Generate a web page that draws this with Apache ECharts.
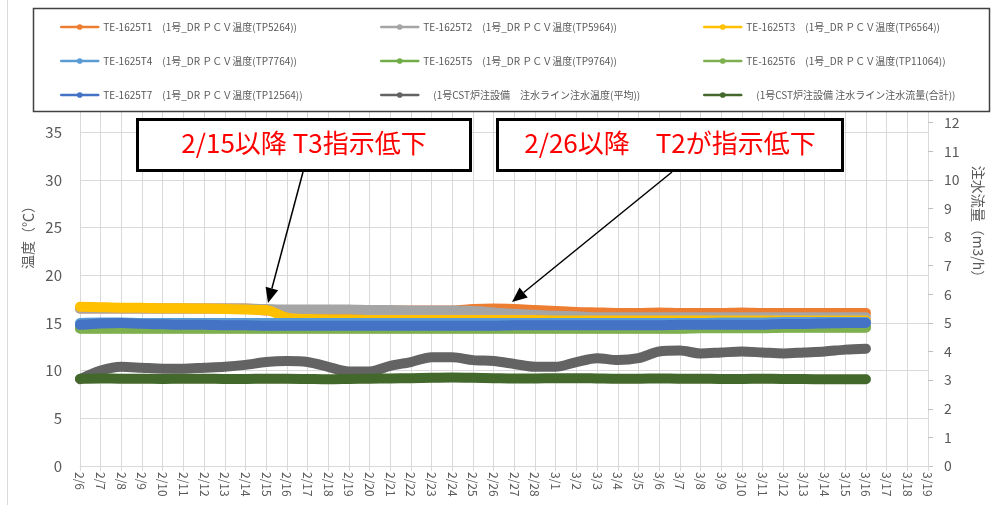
<!DOCTYPE html>
<html><head><meta charset="utf-8">
<script src="https://cdn.jsdelivr.net/npm/echarts@6/dist/echarts.min.js"></script>
<style>html,body{margin:0;padding:0;background:#fff}#c{width:993px;height:505px}</style>
</head><body><div id="c"></div>
<script>
// ---- data ----
const dates = ['2/6','2/7','2/8','2/9','2/10','2/11','2/12','2/13','2/14','2/15','2/16','2/17','2/18','2/19','2/20','2/21','2/22','2/23','2/24','2/25','2/26','2/27','2/28','3/1','3/2','3/3','3/4','3/5','3/6','3/7','3/8','3/9','3/10','3/11','3/12','3/13','3/14','3/15','3/16','3/17','3/18','3/19'];
const namesSeries = ['TE-1625T1　(1号_DR ＰＣＶ温度(TP5264))','TE-1625T2　(1号_DR ＰＣＶ温度(TP5964))','TE-1625T3　(1号_DR ＰＣＶ温度(TP6564))','TE-1625T4　(1号_DR ＰＣＶ温度(TP7764))','TE-1625T5　(1号_DR ＰＣＶ温度(TP9764))','TE-1625T6　(1号_DR ＰＣＶ温度(TP11064))','TE-1625T7　(1号_DR ＰＣＶ温度(TP12564))','　(1号CST炉注設備　注水ライン注水温度(平均))','　(1号CST炉注設備 注水ライン注水流量(合計))'];
const t1 = [16.5,16.5,16.5,16.5,16.5,16.5,16.5,16.5,16.5,16.3,16.3,16.3,16.3,16.3,16.3,16.3,16.3,16.3,16.3,16.45,16.5,16.45,16.35,16.25,16.15,16.1,16.05,16.05,16.1,16.05,16.05,16.05,16.1,16.05,16.05,16.05,16.05,16.05,16.05];
const t2 = [16.5,16.5,16.5,16.5,16.5,16.5,16.5,16.5,16.5,16.45,16.4,16.4,16.4,16.4,16.35,16.35,16.3,16.3,16.3,16.25,16.1,15.95,15.85,15.75,15.7,15.6,15.6,15.6,15.6,15.6,15.6,15.6,15.6,15.6,15.6,15.6,15.6,15.6,15.6];
const t3 = [16.7,16.65,16.6,16.6,16.55,16.55,16.5,16.45,16.4,16.35,15.55,15.4,15.35,15.35,15.3,15.3,15.3,15.3,15.3,15.3,15.3,15.3,15.3,15.25,15.25,15.25,15.25,15.25,15.25,15.25,15.25,15.25,15.25,15.25,15.25,15.25,15.25,15.25,15.25];
const t4 = [15.0,15.05,15.05,15.0,15.0,15.0,15.0,15.0,15.0,15.0,15.0,15.0,15.0,15.0,15.0,15.0,15.0,15.0,15.0,15.0,15.0,15.0,15.0,15.0,15.0,15.0,15.0,15.0,15.0,15.0,15.0,15.05,15.05,15.05,15.1,15.1,15.1,15.1,15.1];
const t5 = [14.45,14.45,14.45,14.45,14.45,14.45,14.45,14.45,14.45,14.45,14.45,14.45,14.45,14.45,14.45,14.45,14.45,14.45,14.45,14.45,14.45,14.45,14.45,14.45,14.45,14.45,14.45,14.45,14.45,14.45,14.5,14.5,14.5,14.5,14.55,14.55,14.55,14.55,14.55];
const t6 = [14.4,14.4,14.4,14.4,14.4,14.4,14.4,14.4,14.4,14.4,14.4,14.4,14.4,14.4,14.4,14.4,14.4,14.4,14.4,14.4,14.4,14.4,14.4,14.4,14.4,14.4,14.4,14.4,14.4,14.4,14.45,14.45,14.45,14.45,14.5,14.5,14.5,14.5,14.5];
const t7 = [14.8,14.95,15.0,14.9,14.85,14.8,14.8,14.75,14.75,14.7,14.7,14.7,14.7,14.7,14.7,14.7,14.7,14.7,14.7,14.7,14.7,14.75,14.75,14.75,14.75,14.75,14.75,14.75,14.75,14.8,14.8,14.8,14.8,14.8,14.9,14.9,14.95,15.0,15.0];
const injTemp = [9.1,10.0,10.4,10.3,10.2,10.2,10.3,10.4,10.6,10.9,11.0,10.9,10.4,9.9,9.9,10.5,10.9,11.4,11.4,11.1,11.0,10.7,10.4,10.4,10.9,11.3,11.1,11.3,12.0,12.1,11.8,11.9,12.0,11.9,11.8,11.9,12.0,12.2,12.3];
const injFlow = [3.05,3.06,3.05,3.05,3.04,3.05,3.05,3.04,3.04,3.05,3.05,3.04,3.03,3.04,3.05,3.06,3.07,3.08,3.09,3.08,3.07,3.06,3.06,3.07,3.07,3.06,3.05,3.05,3.06,3.05,3.05,3.04,3.04,3.05,3.04,3.04,3.03,3.03,3.03];
const leftTicks = {min:0, max:39, interval:5};
const rightTicks = {min:0, max:13, interval:1};
const colors = ['#ED7D31','#A5A5A5','#FFC000','#5B9BD5','#70AD47','#7FB04F','#4472C4','#636363','#43682B'];
const seriesData = [t1,t2,t3,t4,t5,t6,t7,injTemp,injFlow];
const notes = ['2/15以降 T3指示低下','2/26以降　T2が指示低下'];

const chart = echarts.init(document.getElementById('c'), null, {renderer:'canvas'});
const FONT = '"Noto Sans CJK JP","Noto Sans",sans-serif';
const gray = '#595959';

function arrow(x0,y0,x1,y1){
  const dx=x1-x0, dy=y1-y0, L=Math.hypot(dx,dy), ux=dx/L, uy=dy/L;
  const hl=15, hw=6.5;
  const bx=x1-ux*hl, by=y1-uy*hl, px=-uy, py=ux;
  return [
    {type:'line', z:30, shape:{x1:x0,y1:y0,x2:bx,y2:by}, style:{stroke:'#000',lineWidth:1.5}},
    {type:'polygon', z:30, shape:{points:[[x1,y1],[bx+px*hw,by+py*hw],[bx-px*hw,by-py*hw]]}, style:{fill:'#000'}}
  ];
}

const legendBase = {orient:'vertical', top:17, itemGap:24, itemWidth:37, itemHeight:7, z:40,
  textStyle:{fontSize:10, color:gray, fontFamily:FONT}, lineStyle:{width:2.5}, selectedMode:false};

const option = {
  animation:false,
  backgroundColor:'#fff',
  grid:{left:80, right:48, top:94, bottom:39, containLabel:false},
  legend:[
    Object.assign({}, legendBase, {left:55, data:[namesSeries[0],namesSeries[3],namesSeries[6]]}),
    Object.assign({}, legendBase, {left:375, data:[namesSeries[1],namesSeries[4],namesSeries[7]]}),
    Object.assign({}, legendBase, {left:698, data:[namesSeries[2],namesSeries[5],namesSeries[8]]})
  ],
  xAxis:{type:'category', data:dates, boundaryGap:false,
    axisLine:{lineStyle:{color:'#d9d9d9'}},
    axisTick:{show:true, length:5, interval:0, lineStyle:{color:'#d9d9d9'}},
    splitLine:{show:true, interval:0, lineStyle:{color:'#d9d9d9', width:1}},
    axisLabel:{interval:0, rotate:-90, fontSize:12, color:gray, fontFamily:FONT, margin:6}},
  yAxis:[
    {type:'value', min:leftTicks.min, max:leftTicks.max, interval:leftTicks.interval,
      name:'温度（℃）', nameLocation:'middle', nameGap:43,
      nameTextStyle:{fontSize:14, color:gray, fontFamily:FONT, padding:[0,0,0,92]},
      axisLine:{show:false}, axisTick:{show:false},
      axisLabel:{fontSize:15, color:gray, margin:18, showMaxLabel:false, fontFamily:FONT},
      splitLine:{lineStyle:{color:'#d9d9d9'}}},
    {type:'value', min:rightTicks.min, max:rightTicks.max, interval:rightTicks.interval, position:'right',
      name:'注水流量（m3/h）', nameLocation:'middle', nameGap:43, nameRotate:-90,
      nameTextStyle:{fontSize:14, color:gray, fontFamily:FONT, padding:[0,110,0,0]},
      axisLine:{show:true, lineStyle:{color:'#d9d9d9'}},
      axisTick:{show:true, length:5, lineStyle:{color:'#bfbfbf'}},
      axisLabel:{fontSize:14, color:gray, margin:16, showMaxLabel:false, fontFamily:FONT},
      splitLine:{show:false}}
  ],
  series: seriesData.map((d,i)=>({
    name:namesSeries[i], type:'line', data:d, yAxisIndex: i===8?1:0,
    symbol:'circle', symbolSize:6, showSymbol:false, smooth:0.3, silent:true,
    lineStyle:{width:10, color:colors[i], cap:'round', join:'round'},
    itemStyle:{color:colors[i]}, emphasis:{disabled:true}
  })),
  graphic:[
    {type:'line', z:5, shape:{x1:7.5,y1:0,x2:7.5,y2:505}, style:{stroke:'#d9d9d9',lineWidth:1}},
    {type:'rect', z:10, shape:{x:33.5,y:8.5,width:956,height:103}, style:{fill:'#fff',stroke:'#404040',lineWidth:1.5}},
    {type:'rect', z:30, shape:{x:137.5,y:119.5,width:333,height:51}, style:{fill:'#fff',stroke:'#000',lineWidth:3}},
    {type:'text', z:31, x:304, y:143, style:{text:notes[0], fill:'#ff0000', fontSize:26, fontFamily:FONT, align:'center', verticalAlign:'middle'}},
    {type:'rect', z:30, shape:{x:497.5,y:119.5,width:345,height:51}, style:{fill:'#fff',stroke:'#000',lineWidth:3}},
    {type:'text', z:31, x:670, y:143, style:{text:notes[1], fill:'#ff0000', fontSize:26, fontFamily:FONT, align:'center', verticalAlign:'middle'}},
    ...arrow(303,172,268,303),
    ...arrow(672,172,512,302)
  ]
};
chart.setOption(option);
</script></body></html>
